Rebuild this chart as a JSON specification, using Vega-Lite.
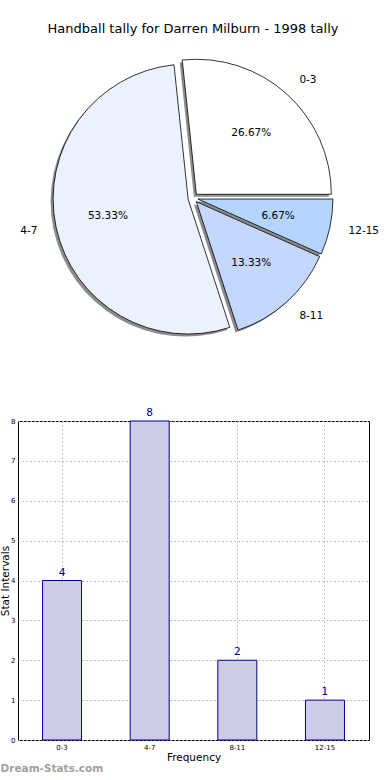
{
  "$schema": "https://vega.github.io/schema/vega-lite/v6.json",
  "padding": {"top": 23, "left": 0, "right": 0, "bottom": 0},
  "background": "white",
  "bounds": "flush",
  "spacing": 78,
  "config": {"view": {"stroke": null}, "font": "DejaVu Sans"},
  "datasets": {
    "tally": [
      {"interval": "0-3", "lo": 0, "count": 4, "pct": "26.67%"},
      {"interval": "4-7", "lo": 4, "count": 8, "pct": "53.33%"},
      {"interval": "8-11", "lo": 8, "count": 2, "pct": "13.33%"},
      {"interval": "12-15", "lo": 12, "count": 1, "pct": "6.67%"}
    ]
  },
  "vconcat": [
    {
      "width": 350,
      "height": 290,
      "title": {"text": "Handball tally for Darren Milburn - 1998 tally", "fontSize": 13, "fontWeight": "normal", "color": "black", "anchor": "middle", "frame": "group", "offset": 17},
      "data": {"name": "tally"},
      "transform": [
        {"stack": "count", "groupby": [], "sort": [{"field": "lo", "order": "ascending"}], "as": ["c0", "c1"]}
      ],
      "layer": [
        {
          "mark": {
            "type": "arc", "outerRadius": 135, "fill": "#8c8c8c", "stroke": null,
            "xOffset": {"expr": "5*sin(PI/2 - PI*(datum.c0+datum.c1)/15) - 2.5"},
            "yOffset": {"expr": "-5*cos(PI/2 - PI*(datum.c0+datum.c1)/15) + 2.5"}
          },
          "encoding": {
            "theta": {"field": "c0", "type": "quantitative", "scale": {"domain": [0, 15], "range": [1.5708, -4.7124]}},
            "theta2": {"field": "c1"}
          }
        },
        {
          "mark": {
            "type": "arc", "outerRadius": 135, "stroke": "black", "strokeWidth": 0.8,
            "xOffset": {"expr": "5*sin(PI/2 - PI*(datum.c0+datum.c1)/15)"},
            "yOffset": {"expr": "-5*cos(PI/2 - PI*(datum.c0+datum.c1)/15)"}
          },
          "encoding": {
            "theta": {"field": "c0", "type": "quantitative", "scale": {"domain": [0, 15], "range": [1.5708, -4.7124]}},
            "theta2": {"field": "c1"},
            "color": {"field": "interval", "type": "nominal", "legend": null,
              "scale": {"domain": ["0-3", "4-7", "8-11", "12-15"], "range": ["#ffffff", "#ebf1ff", "#c4d7ff", "#b4d5ff"]}}
          }
        },
        {
          "mark": {"type": "text", "radius": 87, "fontSize": 10.5, "color": "black", "align": "center", "baseline": "middle"},
          "encoding": {
            "theta": {"field": "count", "type": "quantitative", "stack": true, "scale": {"domain": [0, 15], "range": [1.5708, -4.7124]}},
            "order": {"field": "lo", "type": "quantitative"},
            "text": {"field": "pct"}
          }
        },
        {
          "mark": {"type": "text", "radius": 159, "fontSize": 10.5, "color": "black", "baseline": "middle",
            "align": {"expr": "(datum.c0+datum.c1)/30 > 0.25 && (datum.c0+datum.c1)/30 < 0.75 ? 'right' : 'left'"}},
          "encoding": {
            "theta": {"field": "count", "type": "quantitative", "stack": true, "scale": {"domain": [0, 15], "range": [1.5708, -4.7124]}},
            "order": {"field": "lo", "type": "quantitative"},
            "text": {"field": "interval"}
          }
        }
      ]
    },
    {
      "width": 351,
      "height": 319,
      "view": {"stroke": "black", "strokeWidth": 1},
      "title": {"text": "Dream-Stats.com", "orient": "bottom", "anchor": "start", "frame": "bounds", "color": "#a0a0a0", "fontSize": 10.5, "fontWeight": "bold", "offset": 1},
      "data": {"name": "tally"},
      "encoding": {
        "x": {
          "field": "interval", "type": "nominal", "sort": ["0-3", "4-7", "8-11", "12-15"],
          "scale": {"paddingInner": 0.555, "paddingOuter": 0.28},
          "axis": {"title": "Frequency", "labelAngle": 0, "ticks": false, "domain": false, "grid": true, "gridDash": [1.5, 2.5], "gridColor": "#b0b0b0",
            "labelFontSize": 7, "labelColor": "black", "labelPadding": 3, "titleFontSize": 10.5, "titleFontWeight": "normal", "titleColor": "black", "titlePadding": 2}
        },
        "y": {
          "field": "count", "type": "quantitative",
          "scale": {"domain": [0, 8], "nice": false},
          "axis": {"title": "Stat Intervals", "values": [0, 1, 2, 3, 4, 5, 6, 7, 8], "ticks": false, "domain": false, "grid": true, "gridDash": [1.5, 2.5], "gridColor": "#b0b0b0",
            "labelFontSize": 7, "labelColor": "black", "labelPadding": 3, "titleFontSize": 10.5, "titleFontWeight": "normal", "titleColor": "black", "titlePadding": 0}
        }
      },
      "layer": [
        {"mark": {"type": "bar", "fill": "#ccccE5", "stroke": "#000090", "strokeWidth": 1}},
        {"mark": {"type": "text", "baseline": "bottom", "dy": -3, "fontSize": 10.5, "color": "#000090"}, "encoding": {"text": {"field": "count"}}}
      ]
    }
  ]
}
